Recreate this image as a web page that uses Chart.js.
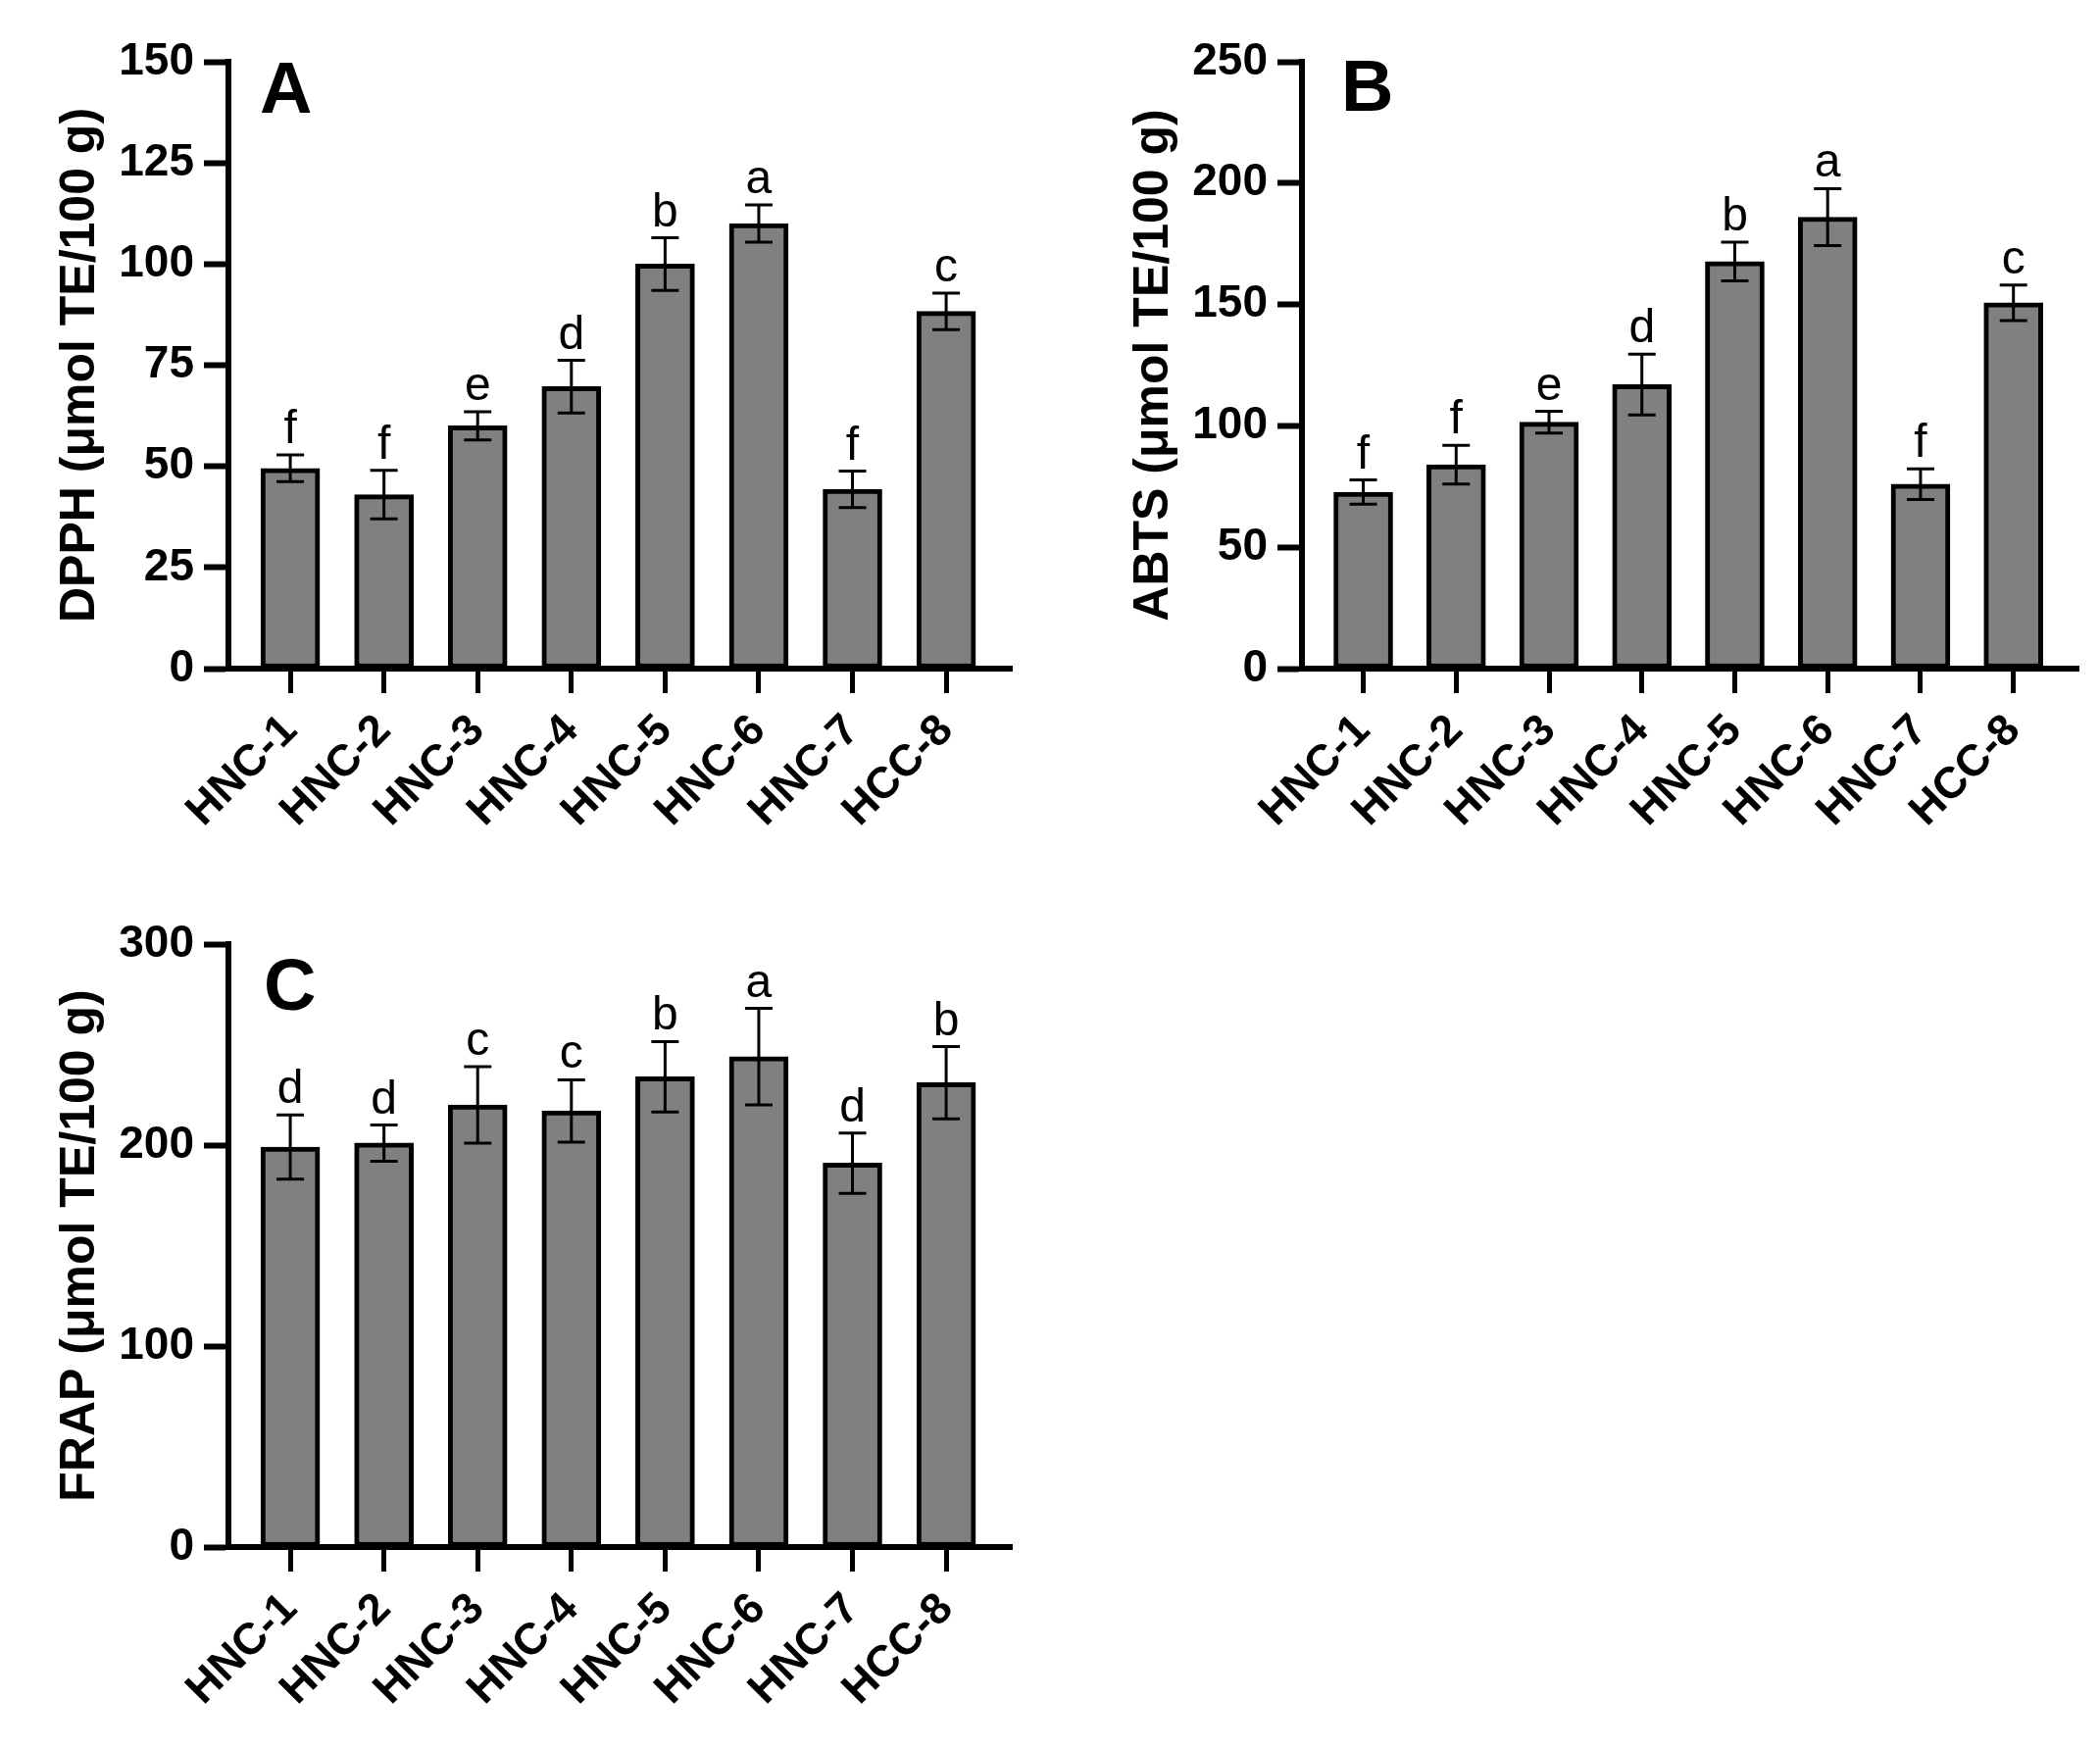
<!DOCTYPE html>
<html>
<head>
<meta charset="utf-8">
<script src="https://cdn.jsdelivr.net/npm/chart.js@4.4.1/dist/chart.umd.min.js"></script>
<style>
  html, body { margin: 0; padding: 0; background: #fff; }
  #wrap { position: relative; width: 2142px; height: 1784px; background: #fff; }
  canvas { position: absolute; }
</style>
</head>
<body>
<div id="wrap">
  <canvas id="cA" width="1071" height="892" style="left:0;top:0;width:1071px;height:892px"></canvas>
  <canvas id="cB" width="1071" height="892" style="left:1071px;top:0;width:1071px;height:892px"></canvas>
  <canvas id="cC" width="1071" height="892" style="left:0;top:892px;width:1071px;height:892px"></canvas>
</div>
<script>
// ---- data ----
const categories = ['HNC-1', 'HNC-2', 'HNC-3', 'HNC-4', 'HNC-5', 'HNC-6', 'HNC-7', 'HCC-8'];

const dpphValues  = [49.5, 43.0, 60.0, 69.7, 100.0, 110.0, 44.3, 88.3];
const dpphErrors  = [3.3, 6.0, 3.5, 6.5, 6.5, 4.6, 4.5, 4.5];
const dpphLetters = ['f', 'f', 'e', 'd', 'b', 'a', 'f', 'c'];
const dpphTicks   = [0, 25, 50, 75, 100, 125, 150];

const abtsValues  = [72.7, 84.0, 101.5, 117.0, 167.7, 186.0, 76.0, 150.7];
const abtsErrors  = [5.0, 8.0, 4.5, 12.5, 8.0, 11.7, 6.3, 7.3];
const abtsLetters = ['f', 'f', 'e', 'd', 'b', 'a', 'f', 'c'];
const abtsTicks   = [0, 50, 100, 150, 200, 250];

const frapValues  = [199, 201, 220, 217, 234, 244, 191, 231];
const frapErrors  = [16, 9, 19, 15.5, 17.5, 24, 15, 18];
const frapLetters = ['d', 'd', 'c', 'c', 'b', 'a', 'd', 'b'];
const frapTicks   = [0, 100, 200, 300];

const FONT = "'Liberation Sans', Arial, Helvetica, sans-serif";
Chart.defaults.color = '#000';
Chart.defaults.font.family = FONT;

const errorBarPlugin = {
  id: 'errorBars',
  afterDatasetsDraw(chart, args, opts) {
    const ctx = chart.ctx;
    const x = chart.scales.x, y = chart.scales.y;
    ctx.save();
    ctx.strokeStyle = '#000';
    ctx.lineWidth = 3;
    ctx.fillStyle = '#000';
    ctx.font = "48px " + FONT;
    ctx.textAlign = 'center';
    ctx.textBaseline = 'alphabetic';
    opts.values.forEach((v, i) => {
      const e = opts.errors[i];
      const px = x.getPixelForValue(i);
      const yt = y.getPixelForValue(v + e);
      const yb = y.getPixelForValue(v - e);
      const cap = 14;
      ctx.beginPath();
      ctx.moveTo(px, yt); ctx.lineTo(px, yb);
      ctx.moveTo(px - cap, yt); ctx.lineTo(px + cap, yt);
      ctx.moveTo(px - cap, yb); ctx.lineTo(px + cap, yb);
      ctx.stroke();
      ctx.fillText(opts.letters[i], px, yt - 12);
    });
    // panel letter
    ctx.font = "bold 74px " + FONT;
    ctx.textAlign = 'left';
    ctx.fillText(opts.panel, chart.chartArea.left + opts.panelDx, chart.chartArea.top + opts.panelDy);
    ctx.restore();
  }
};

function makeChart(id, values, errors, letters, ticks, title, layout) {
  const canvas = document.getElementById(id);
  return new Chart(canvas, {
    type: 'bar',
    data: {
      datasets: [{
        data: values.map((v, i) => ({ x: i, y: v })),
        backgroundColor: '#808080',
        borderColor: '#000',
        borderWidth: 5,
        borderSkipped: false,
        barThickness: 60
      }]
    },
    options: {
      responsive: false,
      animation: false,
      devicePixelRatio: 1,
      events: [],
      layout: { padding: { top: layout.top, right: layout.right, left: 0, bottom: 0 } },
      plugins: {
        legend: { display: false },
        tooltip: { enabled: false },
        errorBars: { values, errors, letters, panel: layout.panel, panelDx: layout.panelDx, panelDy: layout.panelDy }
      },
      scales: {
        x: {
          type: 'linear',
          min: -0.66,
          max: 7.70,
          offset: false,
          afterBuildTicks: s => { s.ticks = categories.map((c, i) => ({ value: i })); },
          afterFit: s => { s.height = layout.xHeight; },
          ticks: {
            autoSkip: false,
            minRotation: 45,
            maxRotation: 45,
            padding: 12,
            font: { family: FONT, size: 45, weight: 'bold' },
            callback: v => categories[v]
          },
          grid: { display: true, offset: false, drawOnChartArea: false, drawTicks: true, tickLength: 25, tickWidth: 5, tickColor: '#000' },
          border: { display: true, width: 6, color: '#000' }
        },
        y: {
          min: ticks[0],
          max: ticks[ticks.length - 1],
          afterBuildTicks: s => { s.ticks = ticks.map(t => ({ value: t })); },
          afterFit: s => { s.width = layout.yWidth; },
          ticks: {
            padding: 10,
            font: { family: FONT, size: 46, weight: 'bold' }
          },
          grid: { display: true, drawOnChartArea: false, drawTicks: true, tickLength: 25, tickWidth: 6, tickColor: '#000' },
          border: { display: true, width: 6, color: '#000' },
          title: {
            display: true,
            text: title,
            font: { family: FONT, size: 50, weight: 'bold' },
            padding: { top: layout.titlePad, bottom: 0 }
          }
        }
      }
    },
    plugins: [errorBarPlugin]
  });
}

makeChart('cA', dpphValues, dpphErrors, dpphLetters, dpphTicks, 'DPPH (μmol TE/100 g)',
  { top: 63, right: 39, xHeight: 210, yWidth: 233, titlePad: 52, panel: 'A', panelDx: 32, panelDy: 52 });
makeChart('cB', abtsValues, abtsErrors, abtsLetters, abtsTicks, 'ABTS (μmol TE/100 g)',
  { top: 63, right: 22, xHeight: 210, yWidth: 257, titlePad: 76, panel: 'B', panelDx: 40, panelDy: 50 });
makeChart('cC', frapValues, frapErrors, frapLetters, frapTicks, 'FRAP (μmol TE/100 g)',
  { top: 71, right: 39, xHeight: 206, yWidth: 233, titlePad: 52, panel: 'C', panelDx: 36, panelDy: 67 });
</script>
</body>
</html>
